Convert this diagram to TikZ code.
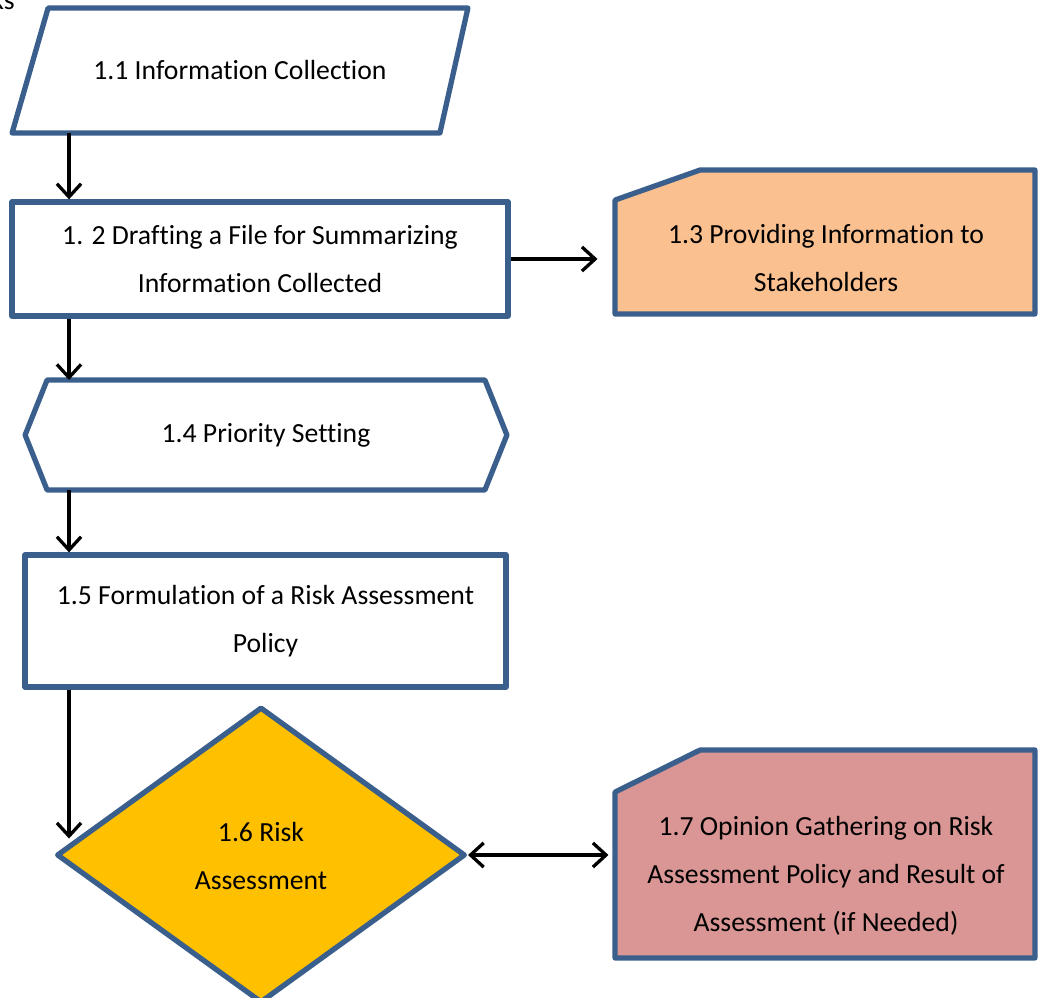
\documentclass[tikz,border=0pt]{standalone}
\usepackage{fontspec}
\setmainfont{Carlito}[Ligatures=NoCommon]
\usetikzlibrary{shapes.geometric, arrows.meta, calc}

\definecolor{flowblue}{HTML}{3A5F8C}
\definecolor{infoorange}{HTML}{FAC090}
\definecolor{riskgold}{HTML}{FFC000}
\definecolor{opinionrose}{HTML}{D99694}

\begin{document}
\begin{tikzpicture}[x=0.016cm, y=-0.016cm,
    flow/.style={draw=flowblue, line width=2.4pt, line join=round, inner sep=0pt, fill=white},
    frame/.style={inner sep=0pt, outer sep=0pt},
    txt/.style={align=center, font=\fontsize{12.6}{21.8}\selectfont},
    arrow/.style={line width=1.5pt, -{Straight Barb[length=6pt, width=11pt]}},
    dblarrow/.style={line width=1.5pt, {Straight Barb[length=6pt, width=11pt]}-{Straight Barb[length=6pt, width=11pt]}}]
  \useasboundingbox (0,0) rectangle (1040,998);

  % Cut-off text in the corner
  \node [txt, anchor=base east, inner sep=0pt] (corner) at (15,10) {ks};

  % 1.1 parallelogram
  \node [frame, minimum width=7.296cm, minimum height=2cm] (n11) at (240,70.5) {};
  \draw [flow] (n11.south west) -- ($(n11.north west)+(36,0)$) -- (n11.north east)
    -- ($(n11.south east)+(-28,0)$) -- cycle;
  \node [txt] (t11) at (n11) {1.1 Information Collection};

  % 1.2 and 1.5 plain boxes
  \node [flow, rectangle, minimum width=7.936cm, minimum height=1.824cm, txt]
        (n12) at (260,259) {1. 2 Drafting a File for Summarizing\\Information Collected};
  \node [flow, rectangle, minimum width=7.696cm, minimum height=2.112cm, txt]
        (n15) at (265.5,621) {1.5 Formulation of a Risk Assessment\\Policy};

  % 1.4 hexagon
  \node [frame, minimum width=7.712cm, minimum height=1.76cm] (n14) at (266,435) {};
  \draw [flow] (n14.west) -- ($(n14.north west)+(22,0)$) -- ($(n14.north east)+(-22,0)$)
    -- (n14.east) -- ($(n14.south east)+(-22,0)$) -- ($(n14.south west)+(22,0)$) -- cycle;
  \node [txt] (t14) at (n14) {1.4 Priority Setting};

  % 1.6 diamond
  \node [flow, diamond, fill=riskgold, minimum width=6.544cm, minimum height=4.736cm]
        (n16) at (261,855) {};
  \node [txt] (t16) at (261,856) {1.6 Risk\\Assessment};

  % Side boxes with a snipped corner
  \node [frame, minimum width=6.72cm, minimum height=2.304cm] (n13) at (825,242) {};
  \draw [flow, fill=infoorange] (n13.south west) -- ($(n13.north west)+(0,30)$)
    -- ($(n13.north west)+(85,0)$) -- (n13.north east) -- (n13.south east) -- cycle;
  \node [txt] (t13) at (826,258) {1.3 Providing Information to\\Stakeholders};

  \node [frame, minimum width=6.72cm, minimum height=3.328cm] (n17) at (825,854) {};
  \draw [flow, fill=opinionrose] (n17.south west) -- ($(n17.north west)+(0,42)$)
    -- ($(n17.north west)+(85,0)$) -- (n17.north east) -- (n17.south east) -- cycle;
  \node [txt] (t17) at (826,876) {1.7 Opinion Gathering on Risk\\Assessment Policy and Result of\\Assessment (if Needed)};

  % Connectors
  \coordinate (col) at (69,0);
  \draw [arrow] (col |- n11.south) -- (col |- n12.north);
  \draw [arrow] (col |- n12.south) -- (col |- n14.north);
  \draw [arrow] (col |- n14.south) -- (col |- n15.north);
  \draw [arrow, shorten >=7.5pt] (col |- n15.south) -- (col |- n16.west);
  \draw [arrow, shorten >=8pt] (n12.east) -- (n12.east -| n13.west);
  \draw [dblarrow, shorten >=3pt] (n16.east) -- (n16.east -| n17.west);
\end{tikzpicture}
\end{document}
